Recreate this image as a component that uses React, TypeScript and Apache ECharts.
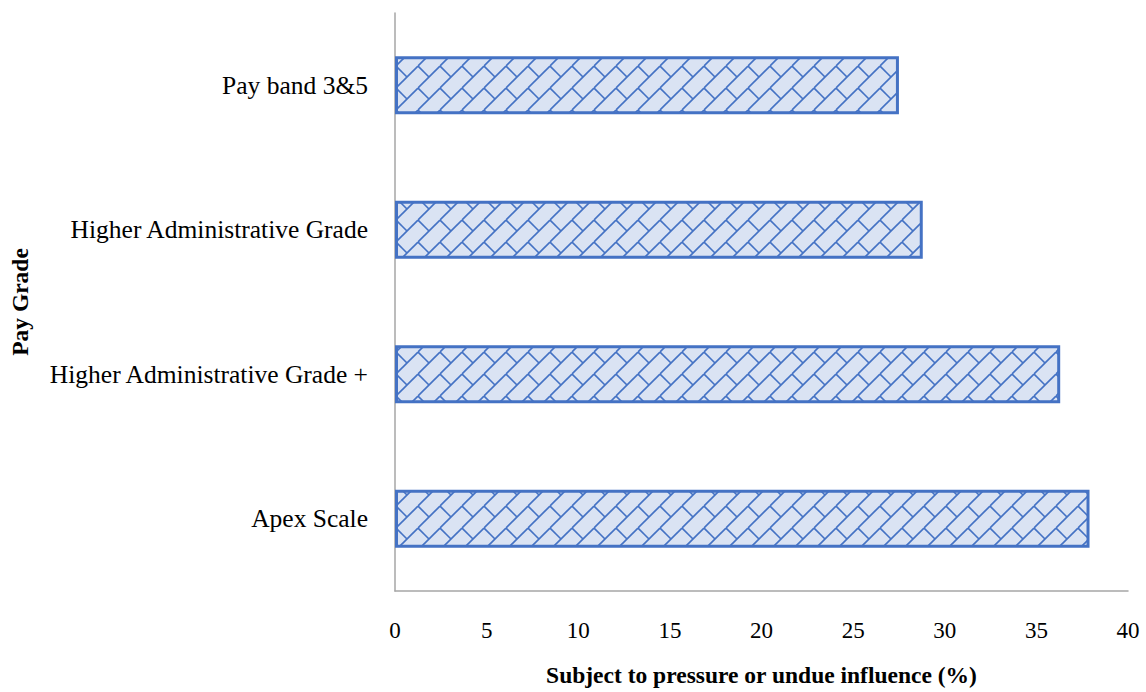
import React, { useEffect, useRef } from "react";
import * as echarts from "echarts";

const categories = ["Apex Scale", "Higher Administrative Grade +", "Higher Administrative Grade", "Pay band 3&5"];
const values = [37.9, 36.3, 28.8, 27.5];
const xTicks = { min: 0, max: 40, interval: 5 };
const xAxisName = "Subject to pressure or undue influence (%)";
const yAxisName = "Pay Grade";

function makePattern(): string {
  const s = 22;
  const c = document.createElement("canvas");
  c.width = s;
  c.height = s;
  const ctx = c.getContext("2d")!;
  ctx.fillStyle = "#dae3f3";
  ctx.fillRect(0, 0, s, s);
  ctx.strokeStyle = "#4472c4";
  ctx.lineWidth = 1.6;
  for (const off of [-s, 0, s]) {
    ctx.beginPath();
    ctx.moveTo(0 + off, s);
    ctx.lineTo(s + off, 0);
    ctx.stroke();
  }
  for (const [ox, oy] of [[0, 0], [s, 0], [0, s], [s, s], [-s, 0], [0, -s]]) {
    ctx.beginPath();
    ctx.moveTo(ox, oy);
    ctx.lineTo(ox + s / 2, oy + s / 2);
    ctx.stroke();
  }
  return c.toDataURL();
}

export default function App() {
  const ref = useRef<HTMLDivElement>(null);
  useEffect(() => {
    if (!ref.current) return;
    const chart = echarts.init(ref.current, undefined, { renderer: "svg" });
    const font = "'Liberation Serif', 'Times New Roman', serif";
    chart.setOption({
      animation: false,
      backgroundColor: "#ffffff",
      textStyle: { fontFamily: font, color: "#000" },
      grid: { left: 393, right: 18, top: 13, bottom: 95, containLabel: false },
      xAxis: {
        type: "value",
        min: xTicks.min,
        max: xTicks.max,
        interval: xTicks.interval,
        name: xAxisName,
        nameLocation: "middle",
        nameGap: 72,
        nameTextStyle: { fontFamily: font, fontSize: 23.5, fontWeight: "bold", color: "#000" },
        axisLine: { show: true, lineStyle: { color: "#a6a6a6", width: 1.5 } },
        axisTick: { show: false },
        splitLine: { show: false },
        axisLabel: { fontFamily: font, fontSize: 23, color: "#000", margin: 28 },
      },
      yAxis: {
        type: "category",
        data: categories,
        name: yAxisName,
        nameLocation: "middle",
        nameGap: 363,
        nameRotate: 90,
        nameTextStyle: { fontFamily: font, fontSize: 23.5, fontWeight: "bold", color: "#000" },
        axisLine: { show: true, lineStyle: { color: "#a6a6a6", width: 1.5 } },
        axisTick: { show: false },
        axisLabel: { fontFamily: font, fontSize: 25.5, color: "#000", margin: 27 },
      },
      series: [
        {
          type: "bar",
          data: values,
          barWidth: 58,
          itemStyle: {
            color: { image: makePattern(), repeat: "repeat" } as any,
            borderColor: "#4472c4",
            borderWidth: 3,
          },
        },
      ],
    });
    return () => chart.dispose();
  }, []);
  return <div ref={ref} style={{ position: "fixed", left: 0, top: 0, width: 1146, height: 692 }} />;
}
